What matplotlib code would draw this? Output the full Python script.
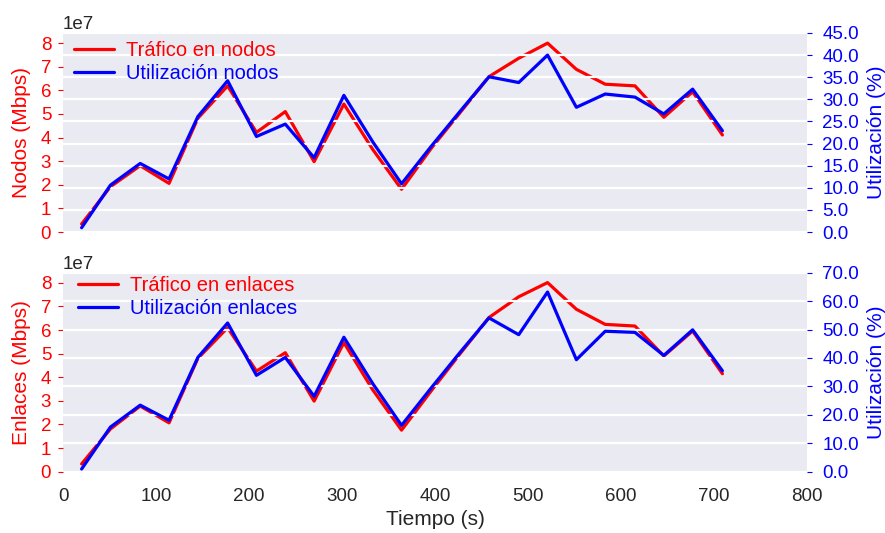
import numpy as np
import matplotlib
matplotlib.use('Agg')
import matplotlib.pyplot as plt
import seaborn as sns

# tiempo de muestreo (s)
tiempo = [20, 51, 83, 114, 145, 177, 208, 239, 270, 302, 333, 364,
          396, 427, 458, 490, 521, 552, 583, 615, 646, 677, 709]

# trafico (x1e7 Mbps) y utilizacion (%)
trafico_nodos = [0.34, 1.92, 2.81, 2.06, 4.82, 6.19, 4.22, 5.10, 2.98, 5.42, 3.50, 1.81,
                 3.55, 5.06, 6.58, 7.36, 8.00, 6.89, 6.26, 6.19, 4.86, 5.94, 4.11]
util_nodos = [0.97, 10.6, 15.5, 12.0, 26.1, 34.2, 21.6, 24.4, 16.8, 30.9, 20.4, 10.9,
              19.4, 27.3, 35.1, 33.8, 40.0, 28.2, 31.2, 30.5, 26.7, 32.3, 22.9]

trafico_enlaces = [0.33, 1.81, 2.78, 2.07, 4.80, 6.10, 4.26, 5.04, 2.99, 5.47, 3.47, 1.76,
                   3.43, 5.00, 6.53, 7.41, 8.01, 6.88, 6.24, 6.17, 4.90, 5.96, 4.15]
util_enlaces = [0.95, 15.7, 23.4, 18.1, 40.2, 52.3, 33.9, 40.2, 26.5, 47.3, 31.0, 16.3,
                29.5, 42.0, 54.1, 48.2, 63.2, 39.4, 49.4, 49.0, 40.9, 49.9, 35.5]

sns.set_style('darkgrid')
plt.rcParams['font.family'] = ['Liberation Sans', 'DejaVu Sans']

t = np.array(tiempo)

fig = plt.figure(figsize=(8.85, 5.33), dpi=100)
ax_top = fig.add_axes([0.0712, 0.5647, 0.8407, 0.3734])
ax_bot = fig.add_axes([0.0712, 0.115, 0.8407, 0.3734], sharex=ax_top)

paneles = [
    (ax_top, trafico_nodos, util_nodos, 'Tráfico en nodos', 'Utilización nodos',
     'Nodos (Mbps)', 45, 5, (0.004, 1.0)),
    (ax_bot, trafico_enlaces, util_enlaces, 'Tráfico en enlaces', 'Utilización enlaces',
     'Enlaces (Mbps)', 70, 10, (0.0095, 1.0256)),
]

for ax1, traf, util, lab1, lab2, ylab, umax, ustep, anchor in paneles:
    ax2 = ax1.twinx()
    l1, = ax1.plot(t, np.array(traf) * 1e7, color='r', lw=2.3, label=lab1)
    l2, = ax2.plot(t, util, color='b', lw=2.3, label=lab2)

    ax1.grid(False)
    ax2.grid(True, axis='y', color='white', lw=1.6)
    ax1.set_xlim(0, 800)
    ax1.set_ylim(0, 8.43e7)
    ax1.set_yticks(np.arange(0, 9) * 1e7)
    ax2.set_ylim(0, umax)
    ax2.set_yticks(np.arange(0, umax + 0.1, ustep))
    ax2.yaxis.set_major_formatter(matplotlib.ticker.FormatStrFormatter('%.1f'))

    ax1.set_ylabel(ylab, color='r', fontsize=15, labelpad=7)
    ax2.set_ylabel('Utilización (%)', color='b', fontsize=15, labelpad=6)
    ax1.tick_params(axis='y', colors='r', labelsize=13.5, pad=5)
    ax2.tick_params(axis='y', colors='b', labelsize=13.5, pad=7.5)
    ax1.tick_params(axis='x', labelsize=13.5, pad=8)
    ax1.yaxis.get_offset_text().set_color('0.15')
    ax1.yaxis.get_offset_text().set_fontsize(13.5)
    for s in list(ax1.spines.values()) + list(ax2.spines.values()):
        s.set_visible(False)

    ax2.legend([l1, l2], [lab1, lab2], loc='upper left', bbox_to_anchor=anchor,
               frameon=False, labelcolor='linecolor', fontsize=14.5, borderaxespad=0,
               handletextpad=0.6, labelspacing=0.2)

plt.setp(ax_top.get_xticklabels(), visible=False)
ax_bot.set_xlabel('Tiempo (s)', fontsize=15, color='0.15')
ax_bot.set_xticks(np.arange(0, 801, 100))

fig.savefig('out.png', dpi=100)
